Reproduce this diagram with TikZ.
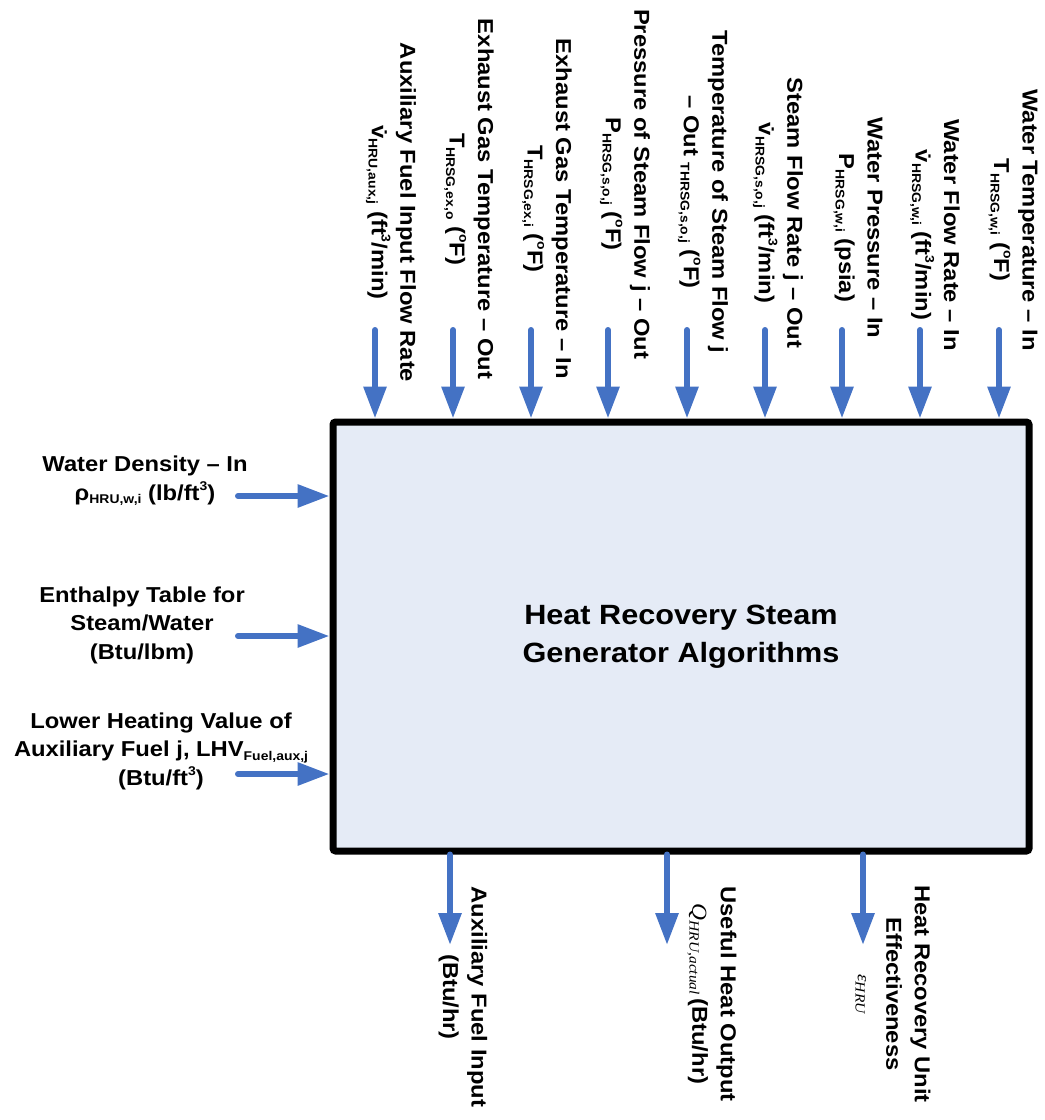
\documentclass[tikz,border=0pt]{standalone}
\usepackage{fontspec}
\setmainfont{Liberation Sans}
\newfontfamily\labfont{Liberation Sans}[FakeStretch=1.1]
\newfontfamily\eqfont{Liberation Serif}[FakeStretch=1.1]
\usetikzlibrary{arrows.meta}

\definecolor{flowblue}{RGB}{68,114,196}
\definecolor{boxfill}{RGB}{229,235,246}

% small bold subscripts / superscripts used in the labels
\newcommand\sbs[1]{\raisebox{-0.3ex}{\fontsize{9.5}{10}\selectfont #1}}
\newcommand\sps[1]{\raisebox{0.85ex}{\fontsize{9.5}{10}\selectfont #1}}
\newcommand\sbsit[1]{\raisebox{-0.3ex}{\fontsize{10.5}{11}\selectfont #1}}

\tikzset{
  flow/.style={draw=flowblue, line width=4.5pt, line cap=round,
    -{Triangle[width=16.5pt,length=24pt]}},
  lab/.style={font=\labfont\bfseries\fontsize{16.2}{21.4}\selectfont,
    align=center, inner sep=0pt},
  vlab/.style={lab, rotate=-90},
  core/.style={draw=black, line width=5.25pt, fill=boxfill, rounded corners=2pt,
    minimum width=522pt, minimum height=321.75pt, align=center,
    font=\labfont\bfseries\fontsize{20.9}{28.5}\selectfont}
}

\begin{document}
\begin{tikzpicture}[x=0.75pt,y=-0.75pt]
\useasboundingbox (0,0) rectangle (1045,1120);

% central block
\node[core] (box) at (681,636.5) {Heat Recovery Steam\\Generator Algorithms};

% inputs from the top
\node[vlab] (t1) at (391,212.5) {Auxiliary Fuel Input Flow Rate\\\.{v}\sbs{HRU,aux,j} (ft\sps{3}/min)};
\node[vlab] (t2) at (469,199) {Exhaust Gas Temperature – Out\\T\sbs{HRSG,ex,o} (\sps{o}F)};
\node[vlab] (t3) at (547,209) {Exhaust Gas Temperature – In\\T\sbs{HRSG,ex,i} (\sps{o}F)};
\node[vlab] (t4) at (625,184) {Pressure of Steam Flow j – Out\\P\sbs{HRSG,s,o,j} (\sps{o}F)};
\node[vlab] (t5) at (703,192) {Temperature of Steam Flow j\\– Out \sbs{THRSG,s,o,j} (\sps{o}F)};
\node[vlab] (t6) at (778,213) {Steam Flow Rate j – Out\\\.{v}\sbs{HRSG,s,o,j} (ft\sps{3}/min)};
\node[vlab] (t7) at (858,228) {Water Pressure – In\\P\sbs{HRSG,w,i} (psia)};
\node[vlab] (t8) at (935,235) {Water Flow Rate – In\\\.{v}\sbs{HRSG,w,i} (ft\sps{3}/min)};
\node[vlab] (t9) at (1013,220) {Water Temperature – In\\T\sbs{HRSG,w,i} (\sps{o}F)};

\foreach \i/\x in {1/375,2/453,3/531,4/608,5/687,6/765,7/842,8/920,9/999}{
  \coordinate (ts\i) at (\x,330);
  \draw[flow] (ts\i) -- (ts\i |- box.north);
}

% inputs from the left
\node[lab] (l1) at (145,481) {Water Density – In\\ρ\sbs{HRU,w,i} (lb/ft\sps{3})};
\node[lab] (l2) at (142,625) {Enthalpy Table for\\Steam/Water\\(Btu/lbm)};
\node[lab] (l3) at (161,751) {Lower Heating Value of\\Auxiliary Fuel j, LHV\sbs{Fuel,aux,j}\\(Btu/ft\sps{3})};

\foreach \i/\y in {1/496,2/636,3/774}{
  \coordinate (ls\i) at (238,\y);
  \draw[flow] (ls\i) -- (ls\i -| box.west);
}

% outputs at the bottom
\node[vlab] (b1) at (463,997) {Auxiliary Fuel Input\\(Btu/hr)};
\node[vlab] (b2) at (712,994) {Useful Heat Output\\{\eqfont\mdseries\itshape\fontsize{16}{16}\selectfont Q\sbsit{HRU,actual}}\,(Btu/hr)};
\node[vlab] (b3) at (893,994) {Heat Recovery Unit\\Effectiveness\\{\eqfont\mdseries\itshape\fontsize{13}{13}\selectfont ε\sbsit{HRU}}};

\foreach \i/\x in {1/450,2/667,3/863}{
  \coordinate (be\i) at (\x,945);
  \draw[flow] (be\i |- box.south) -- (be\i);
}
\end{tikzpicture}
\end{document}
